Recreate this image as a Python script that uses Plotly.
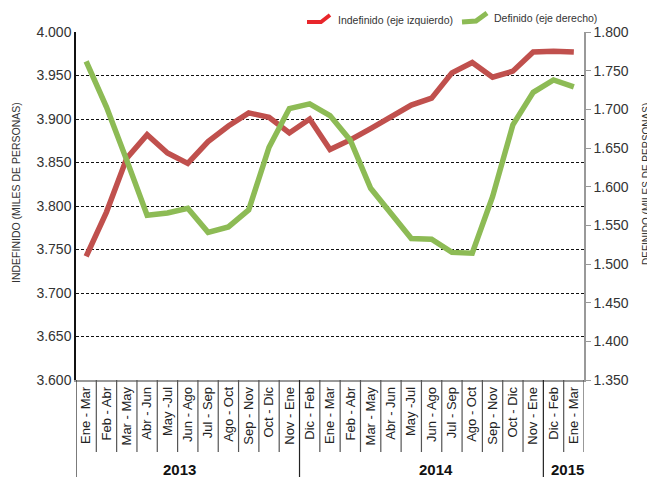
import plotly.graph_objects as go

# rolling quarters, Ene-Mar 2013 .. Ene-Mar 2015
periodos = ["Ene - Mar", "Feb - Abr", "Mar - May", "Abr - Jun", "May -Jul", "Jun - Ago",
            "Jul - Sep", "Ago - Oct", "Sep - Nov", "Oct - Dic", "Nov - Ene",
            "Dic - Feb", "Ene - Mar", "Feb - Abr", "Mar - May", "Abr - Jun", "May -Jul",
            "Jun - Ago", "Jul - Sep", "Ago - Oct", "Sep - Nov", "Oct - Dic", "Nov - Ene",
            "Dic - Feb", "Ene - Mar"]
anios = ["2013", "2014", "2015"]
periodos_por_anio = [11, 12, 2]

# miles de personas
indefinido = [3.742, 3.793, 3.855, 3.882, 3.861, 3.849, 3.874, 3.892, 3.907, 3.902,
              3.884, 3.900, 3.865, 3.876, 3.889, 3.903, 3.916, 3.924, 3.953, 3.965,
              3.948, 3.955, 3.977, 3.978, 3.977]
definido = [1.762, 1.703, 1.634, 1.563, 1.566, 1.572, 1.541, 1.548, 1.570, 1.651,
            1.701, 1.707, 1.692, 1.660, 1.598, 1.566, 1.533, 1.532, 1.515, 1.514,
            1.587, 1.680, 1.722, 1.738, 1.729]

FONT = "Liberation Sans Narrow, Arial Narrow, Liberation Sans, Arial, sans-serif"
RED = "#c0504d"
GREEN = "#8dbb55"

x_idx = list(range(len(periodos)))

fig = go.Figure()
fig.add_trace(go.Scatter(x=x_idx, y=indefinido, mode="lines", name="Indefinido (eje izquierdo)",
                         line=dict(color=RED, width=5.5), yaxis="y"))
fig.add_trace(go.Scatter(x=x_idx, y=definido, mode="lines", name="Definido (eje derecho)",
                         line=dict(color=GREEN, width=5.5), yaxis="y2"))

# page body adds 8px, so the figure is drawn 8px smaller; plot area on screen: x 76..584, y 32..380
def px(xp):
    return (xp - 76) / 508.0

def py(yp):
    return (380 - yp) / 348.0

shapes = []
# separators between the period labels
ends = []
acc = 0
for n in periodos_por_anio:
    acc += n
    ends.append(acc)
for k in range(len(periodos) + 1):
    long_line = k == 0 or k in ends[:-1]
    shapes.append(dict(type="line", xref="x", yref="paper", x0=k - 0.5, x1=k - 0.5,
                       y0=0, y1=py(480) if long_line else py(452),
                       line=dict(color="#222" if long_line else "#555", width=1.2)))

# legend icons
shapes.append(dict(type="path", xref="paper", yref="paper",
                   path=f"M {px(307)},{py(22)} L {px(321)},{py(22)} L {px(330)},{py(15)}",
                   line=dict(color="#e8262b", width=4)))
shapes.append(dict(type="path", xref="paper", yref="paper",
                   path=f"M {px(462)},{py(22)} L {px(476)},{py(21)} L {px(487)},{py(13)}",
                   line=dict(color=GREEN, width=5)))

annotations = [
    dict(text="Indefinido (eje izquierdo)", xref="paper", yref="paper", x=px(336), y=py(20),
         xanchor="left", yanchor="middle", showarrow=False, font=dict(family=FONT, size=10.5, color="#333")),
    dict(text="Definido (eje derecho)", xref="paper", yref="paper", x=px(492), y=py(18),
         xanchor="left", yanchor="middle", showarrow=False, font=dict(family=FONT, size=10.5, color="#333")),
    dict(text="INDEFINIDO (MILES DE PERSONAS)", xref="paper", yref="paper", x=px(16), y=py(193),
         textangle=-90, showarrow=False, xanchor="center", yanchor="middle",
         font=dict(family=FONT, size=10.5, color="#333")),
    dict(text="DEFINIDO (MILES DE PERSONAS)", xref="paper", yref="paper", x=px(646), y=py(184),
         textangle=-90, showarrow=False, xanchor="center", yanchor="middle",
         font=dict(family=FONT, size=10, color="#333")),
]
anio_x = [4.6, 17.2, 23.7]
for a, xa in zip(anios, anio_x):
    annotations.append(dict(text=f"<b>{a}</b>", xref="x", yref="paper", x=xa, y=py(469),
                            showarrow=False, xanchor="center", yanchor="middle",
                            font=dict(family="Liberation Sans, Arial, sans-serif", size=15, color="#111")))

fig.update_layout(
    width=647, height=469,
    margin=dict(l=68, r=71, t=24, b=97, autoexpand=False),
    plot_bgcolor="white", paper_bgcolor="white",
    showlegend=False,
    font=dict(family=FONT, color="#333"),
    shapes=shapes,
    annotations=annotations,
    xaxis=dict(range=[-0.5, len(periodos) - 0.5], tickvals=x_idx, ticktext=periodos,
               tickangle=-90, tickfont=dict(family=FONT, size=13, color="#222"),
               showgrid=False, zeroline=False, showline=True, linecolor="#999", linewidth=1.5,
               ticks="", fixedrange=True),
    yaxis=dict(range=[3.6, 4.0], tickvals=[3.6 + 0.05 * i for i in range(9)],
               tickformat=".3f",
               tickfont=dict(family=FONT, size=14, color="#333"),
               showgrid=True, gridcolor="#111", griddash="3px,2px", gridwidth=1,
               showline=True, linecolor="#111", linewidth=1.5, zeroline=False,
               ticks="", ticklen=0, fixedrange=True),
    yaxis2=dict(range=[1.35, 1.8], tickvals=[1.35 + 0.05 * i for i in range(10)],
                tickformat=".3f", overlaying="y", side="right",
                tickfont=dict(family=FONT, size=14, color="#333"),
                showgrid=False, zeroline=False, showline=True, linecolor="#999", linewidth=1.5,
                ticks="outside", ticklen=5, tickcolor="#999", fixedrange=True),
)

fig.write_html("out.html")
